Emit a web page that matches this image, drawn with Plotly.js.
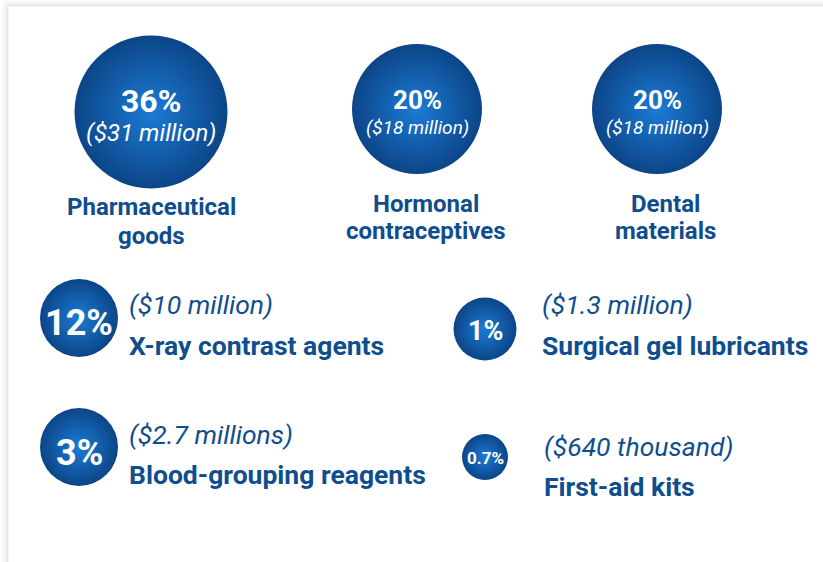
<!DOCTYPE html>
<html>
<head>
<meta charset="utf-8">
<script src="https://cdn.plot.ly/plotly-3.0.1.min.js"></script>
<style>
  html, body { margin: 0; padding: 0; background: #ffffff; }
  #chart { width: 823px; height: 562px; }
</style>
</head>
<body>
<div id="chart"></div>
<script>
// data
const categories = ['Pharmaceutical<br>goods', 'Hormonal<br>contraceptives', 'Dental<br>materials',
    'X-ray contrast agents', 'Surgical gel lubricants', 'Blood-grouping reagents', 'First-aid kits'];
const shares = [36, 20, 20, 12, 1, 3, 0.7];
const amounts = ['($31 million)', '($18 million)', '($18 million)', '($10 million)',
    '($1.3 million)', '($2.7 millions)', '($640 thousand)'];

// layout (pixel positions, the axes map 1 unit = 1 px)
const cx = [151, 417, 657, 79, 485, 79, 485];
const cy = [112, 109, 109, 318, 329, 447, 457];
const diam = [153, 130, 130, 78, 63, 78, 46];
const pctSize = [32, 26, 26, 36, 27, 36, 17];
const pctY = [101, 100, 100, 323, 331, 453, 458];
const amtX = [151, 417, 657, 127, 540, 127, 542];
const amtY = [133, 127, 127, 304, 304, 434, 446];
const amtSize = [24, 19, 19, 26.5, 26.5, 26.5, 26.5];
const labX = [151, 426, 665, 127, 540, 127, 542];
const labY = [207, 204, 204, 345, 345, 474, 486];
const labGap = [29, 27, 27, 0, 0, 0, 0];
const labSize = [24, 24, 24, 26.5, 26.5, 26.5, 26.5];

const textBlue = '#0f4e8e';
const font = 'Roboto, Arial, sans-serif';

const circles = {
    type: 'scatter',
    mode: 'markers',
    x: cx,
    y: cy,
    hoverinfo: 'skip',
    marker: {
        size: diam,
        opacity: 1,
        color: '#0c4587',
        gradient: { type: 'radial', color: '#1b7bd6' },
        line: { width: 0 }
    }
};

const annotations = [];
for (let i = 0; i < shares.length; i++) {
    const top = i < 3;
    annotations.push({
        x: cx[i], y: pctY[i], xref: 'x', yref: 'y',
        text: '<b>' + shares[i] + '%</b>', showarrow: false,
        xanchor: 'center', yanchor: 'middle',
        font: { family: font, size: pctSize[i], color: '#ffffff' }
    });
    annotations.push({
        x: amtX[i], y: amtY[i], xref: 'x', yref: 'y',
        text: '<i>' + amounts[i] + '</i>', showarrow: false,
        xanchor: top ? 'center' : 'left', yanchor: 'middle',
        font: { family: font, size: amtSize[i], color: top ? '#ffffff' : textBlue }
    });
    // one annotation per label line so the line spacing can follow the picture
    categories[i].split('<br>').forEach((line, j) => {
        annotations.push({
            x: labX[i], y: labY[i] + j * labGap[i], xref: 'x', yref: 'y',
            text: '<b>' + line + '</b>', showarrow: false,
            xanchor: top ? 'center' : 'left', yanchor: 'middle',
            font: { family: font, size: labSize[i], color: textBlue }
        });
    });
}

// card with a soft shadow on the left and top
const shapes = [];
for (let k = 6; k >= 1; k--) {
    shapes.push({
        type: 'rect', xref: 'x', yref: 'y', layer: 'below',
        x0: 8 - k, y0: 6 - k, x1: 840, y1: 580,
        fillcolor: 'rgba(0,0,0,0.012)', line: { width: 0 }
    });
}
shapes.push({
    type: 'rect', xref: 'x', yref: 'y', layer: 'below',
    x0: 8, y0: 6, x1: 840, y1: 580,
    fillcolor: '#ffffff', line: { width: 1, color: 'rgba(0,0,0,0.07)' }
});

const layout = {
    width: 823,
    height: 562,
    margin: { l: 0, r: 0, t: 0, b: 0 },
    paper_bgcolor: '#ffffff',
    plot_bgcolor: '#ffffff',
    showlegend: false,
    xaxis: { range: [0, 823], visible: false, fixedrange: true },
    yaxis: { range: [562, 0], visible: false, fixedrange: true },
    annotations: annotations,
    shapes: shapes,
    font: { family: font }
};

Plotly.newPlot('chart', [circles], layout, { displayModeBar: false, staticPlot: true });
</script>
</body>
</html>
